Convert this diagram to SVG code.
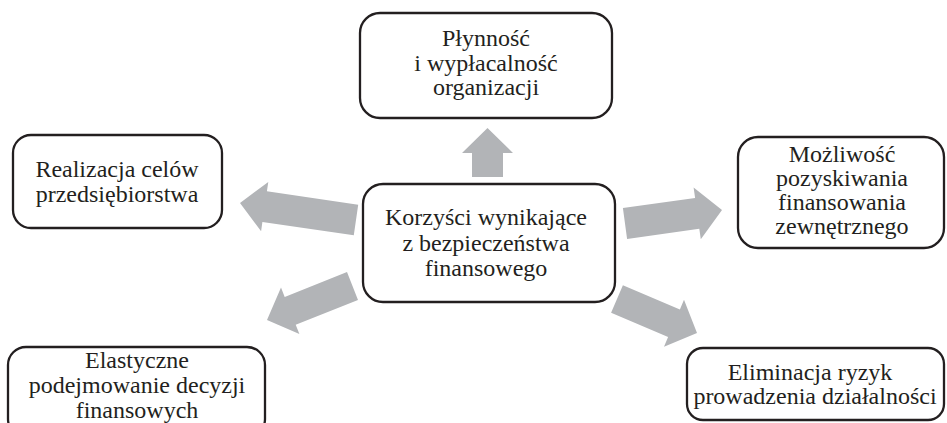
<svg xmlns="http://www.w3.org/2000/svg" width="947" height="423" viewBox="0 0 947 423">
  <style>
    .box { fill: #ffffff; stroke: #231f20; stroke-width: 2.3; }
    .lbl { font-family: "Liberation Serif", "Times New Roman", serif; font-size: 24px; fill: #231f20; text-anchor: middle; }
    .arrow { fill: #b2b4b7; stroke: none; }
  </style>
  <rect width="947" height="423" fill="#ffffff"/>

  <!-- connectors: block arrows from the central node -->
  <g id="connectors">
    <polygon class="arrow" points="472,177 503,177 503,153 513,153 487.5,128 462,153 472,153"/>
    <polygon class="arrow" points="358.2,204.7 266.9,191.3 268.3,181.9 240,203 261.1,231.3 262.4,221.9 353.8,235.3"/>
    <polygon class="arrow" points="622.9,208.1 695.1,198 693.6,187.6 722,210 700.8,239.2 699.3,228.8 627.1,238.9"/>
    <polygon class="arrow" points="347,272.1 284.7,296.9 281,287.6 267,320 299.4,334 295.7,324.7 358,299.9"/>
    <polygon class="arrow" points="622.9,285.2 679.9,309.4 684,299.7 697,333 664,346.7 668.1,337 611.1,312.8"/>
  </g>

  <g id="center">
    <rect class="box" x="363" y="184" width="252" height="118" rx="20"/>
    <text class="lbl" x="486" y="225">Korzyści wynikające</text>
    <text class="lbl" x="486" y="251">z bezpieczeństwa</text>
    <text class="lbl" x="486" y="276">finansowego</text>
  </g>

  <g id="liquidity">
    <rect class="box" x="360" y="13" width="252" height="105" rx="20"/>
    <text class="lbl" x="486" y="46">Płynność</text>
    <text class="lbl" x="486" y="71">i wypłacalność</text>
    <text class="lbl" x="486" y="95">organizacji</text>
  </g>

  <g id="goals">
    <rect class="box" x="13" y="135" width="209" height="93" rx="18"/>
    <text class="lbl" x="117" y="177">Realizacja celów</text>
    <text class="lbl" x="117" y="202">przedsiębiorstwa</text>
  </g>

  <g id="financing">
    <rect class="box" x="738" y="137" width="206" height="111" rx="20"/>
    <text class="lbl" x="842" y="162">Możliwość</text>
    <text class="lbl" x="842" y="186">pozyskiwania</text>
    <text class="lbl" x="842" y="210">finansowania</text>
    <text class="lbl" x="842" y="234">zewnętrznego</text>
  </g>

  <g id="decisions">
    <rect class="box" x="8" y="347" width="257" height="90" rx="18"/>
    <text class="lbl" x="137" y="368">Elastyczne</text>
    <text class="lbl" x="137" y="393">podejmowanie decyzji</text>
    <text class="lbl" x="137" y="418">finansowych</text>
  </g>

  <g id="risks">
    <rect class="box" x="687" y="348" width="257" height="72" rx="16"/>
    <text class="lbl" x="810" y="380">Eliminacja ryzyk</text>
    <text class="lbl" x="815" y="404">prowadzenia działalności</text>
  </g>
</svg>
